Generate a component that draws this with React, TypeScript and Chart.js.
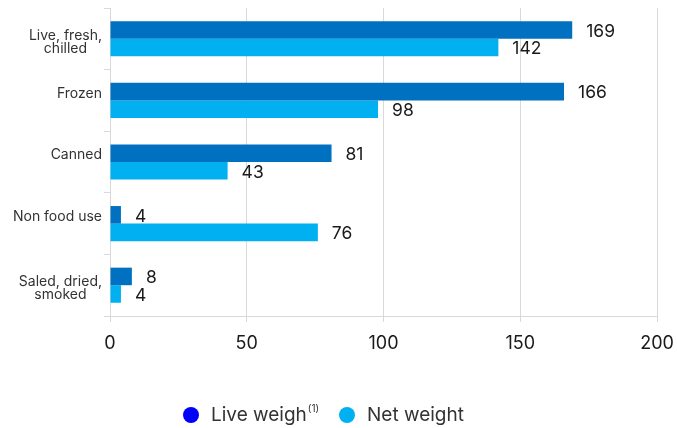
import React, { useEffect, useRef } from "react";
import { Chart, registerables } from "chart.js";

Chart.register(...registerables);

const categories: string[][] = [
  ["Live, fresh,", "chilled"],
  ["Frozen"],
  ["Canned"],
  ["Non food use"],
  ["Saled, dried,", "smoked"],
];
const liveWeight = [169, 166, 81, 4, 8];
const netWeight = [142, 98, 43, 76, 4];
const xTicks = [0, 50, 100, 150, 200];
const seriesNames = ["Live weigh", "Net weight"];
const seriesSup = ["(1)", ""];
const barColors = ["#0070C0", "#00B0F0"];
const legendColors = ["#0000FF", "#00B0F0"];

const FONT = "Inter, sans-serif";

const valueLabels = {
  id: "valueLabels",
  afterDatasetsDraw(chart: any) {
    const ctx = chart.ctx;
    ctx.save();
    ctx.font = `17.5px ${FONT}`;
    ctx.fillStyle = "#1a1a1a";
    ctx.textAlign = "left";
    ctx.textBaseline = "middle";
    chart.data.datasets.forEach((ds: any, di: number) => {
      const meta = chart.getDatasetMeta(di);
      meta.data.forEach((bar: any, i: number) => {
        ctx.fillText(String(ds.data[i]), bar.x + 14, bar.y + 1.5);
      });
    });
    ctx.restore();
  },
};

const catLabels = {
  id: "catLabels",
  afterDraw(chart: any) {
    const ctx = chart.ctx;
    const y = chart.scales.y;
    ctx.save();
    ctx.font = `14px ${FONT}`;
    ctx.fillStyle = "#333333";
    ctx.textBaseline = "middle";
    ctx.textAlign = "center";
    const right = 102;
    categories.forEach((lines, i) => {
      const cy = y.getPixelForValue(i);
      const w = Math.max(...lines.map((l) => ctx.measureText(l).width));
      const cx = right - w / 2;
      if (lines.length === 1) {
        ctx.fillText(lines[0], cx, cy - 7);
      } else {
        lines.forEach((l, k) => ctx.fillText(l, cx, cy - 3 + k * 13));
      }
    });
    ctx.restore();
  },
};

const customLegend = {
  id: "customLegend",
  afterDraw(chart: any) {
    const ctx = chart.ctx;
    ctx.save();
    const xs = [191, 347];
    const ly = 415;
    seriesNames.forEach((name, i) => {
      ctx.beginPath();
      ctx.fillStyle = legendColors[i];
      ctx.arc(xs[i], ly, 8, 0, Math.PI * 2);
      ctx.fill();
      ctx.fillStyle = "#333333";
      ctx.font = `19px ${FONT}`;
      ctx.textAlign = "left";
      ctx.textBaseline = "middle";
      ctx.fillText(name, xs[i] + 20, ly);
      if (seriesSup[i]) {
        const w = ctx.measureText(name).width;
        ctx.font = `10px ${FONT}`;
        ctx.fillText(seriesSup[i], xs[i] + 20 + w + 1, ly - 6);
      }
    });
    ctx.restore();
  },
};

export default function App() {
  const ref = useRef<HTMLCanvasElement | null>(null);
  useEffect(() => {
    document.body.style.margin = "0";
    const chart = new Chart(ref.current!, {
      type: "bar",
      data: {
        labels: categories.map((c) => c.join(" ")),
        datasets: [
          {
            label: seriesNames[0],
            data: liveWeight,
            backgroundColor: barColors[0],
            categoryPercentage: 0.57,
            barPercentage: 1,
          },
          {
            label: seriesNames[1],
            data: netWeight,
            backgroundColor: barColors[1],
            categoryPercentage: 0.57,
            barPercentage: 1,
          },
        ],
      },
      options: {
        indexAxis: "y",
        animation: false,
        responsive: false,
        layout: { padding: { top: 8, right: 20, left: 0, bottom: 0 } },
        plugins: {
          legend: { display: false },
          tooltip: { enabled: false },
        },
        scales: {
          x: {
            min: 0,
            max: 200,
            afterBuildTicks: (s: any) => {
              s.ticks = xTicks.map((v) => ({ value: v }));
            },
            afterFit: (s: any) => {
              s.height = 112;
              s.paddingRight = 0;
              s.paddingLeft = 0;
            },
            grid: {
              color: "#d9d9d9",
              tickLength: 6,
              lineWidth: 1,
            },
            border: { color: "#d9d9d9" },
            ticks: {
              font: { size: 18, family: FONT },
              color: "#1a1a1a",
              padding: 11,
            },
          },
          y: {
            afterFit: (s: any) => {
              s.width = 110;
            },
            grid: {
              drawOnChartArea: false,
              color: "#d9d9d9",
              tickLength: 6,
              offset: true,
            },
            border: { color: "#d9d9d9" },
            ticks: { display: false },
          },
        },
      },
      plugins: [valueLabels, catLabels, customLegend],
    });
    return () => chart.destroy();
  }, []);
  return <canvas ref={ref} width={677} height={428} style={{ display: "block" }} />;
}
